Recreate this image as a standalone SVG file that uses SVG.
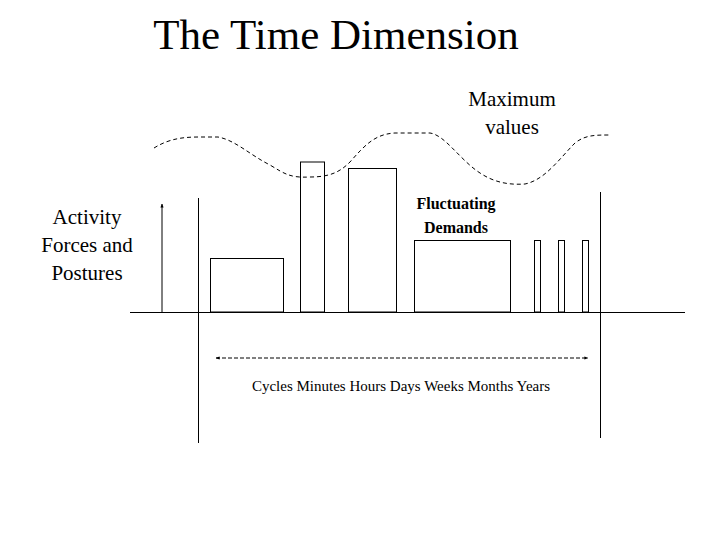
<svg xmlns="http://www.w3.org/2000/svg" width="720" height="540" viewBox="0 0 720 540">
<style>
text{font-family:"Times New Roman","Liberation Serif","DejaVu Serif",serif;fill:#000}
.s{fill:none;stroke:#000;stroke-width:1}
</style>
<defs>
<marker id="a" viewBox="0 0 10 10" refX="9" refY="5" markerWidth="4" markerHeight="4" orient="auto-start-reverse"><path d="M0,1 L10,5 L0,9Z" fill="#000"/></marker>
</defs>
<rect width="720" height="540" fill="#fff"/>
<text x="336" y="49" font-size="43" text-anchor="middle">The Time Dimension</text>
<text x="512" y="106" font-size="21" text-anchor="middle">Maximum</text>
<text x="512" y="134" font-size="21" text-anchor="middle">values</text>
<text x="87" y="224" font-size="21" text-anchor="middle">Activity</text>
<text x="87" y="252" font-size="21" text-anchor="middle">Forces and</text>
<text x="87" y="280" font-size="21" text-anchor="middle">Postures</text>
<text x="456" y="209" font-size="16" font-weight="bold" text-anchor="middle">Fluctuating</text>
<text x="456" y="233" font-size="16" font-weight="bold" text-anchor="middle">Demands</text>
<text x="401" y="391" font-size="15" text-anchor="middle">Cycles Minutes Hours Days Weeks Months Years</text>
<g id="curve"><path class="s" stroke-dasharray="4,3" d="M154,148 C170,138 185,137 200,137 L218,137 C235,140 250,155 270,165 C285,174 290,178 310,177 C330,177 340,172 350,162 C365,145 375,134 395,133 L430,133 C445,135 460,160 480,173 C495,183 510,185 525,184 C545,180 560,158 575,143 C585,135 595,135 610,135"/></g>
<g id="bars">
<rect class="s" x="210.5" y="258.5" width="73" height="53.5"/>
<rect class="s" x="300.5" y="162" width="24" height="150"/>
<rect class="s" x="348.5" y="168.5" width="48" height="143.5"/>
<rect class="s" x="414.5" y="240.5" width="96" height="71.5"/>
<rect class="s" x="534.5" y="240.5" width="6" height="71.5"/>
<rect class="s" x="558.5" y="240.5" width="6" height="71.5"/>
<rect class="s" x="582.5" y="240.5" width="6" height="71.5"/>
</g>
<g id="connectors">
<line class="s" x1="130" y1="312.5" x2="685" y2="312.5"/>
<line class="s" x1="198.5" y1="198" x2="198.5" y2="443"/>
<line class="s" x1="600.5" y1="192" x2="600.5" y2="438"/>
<line class="s" stroke-width="2.5" x1="162" y1="312" x2="162" y2="204" marker-end="url(#a)"/>
<line class="s" stroke-width="2" stroke-dasharray="4,2" x1="216" y1="358" x2="588" y2="358" marker-start="url(#a)" marker-end="url(#a)"/>
</g>
</svg>
